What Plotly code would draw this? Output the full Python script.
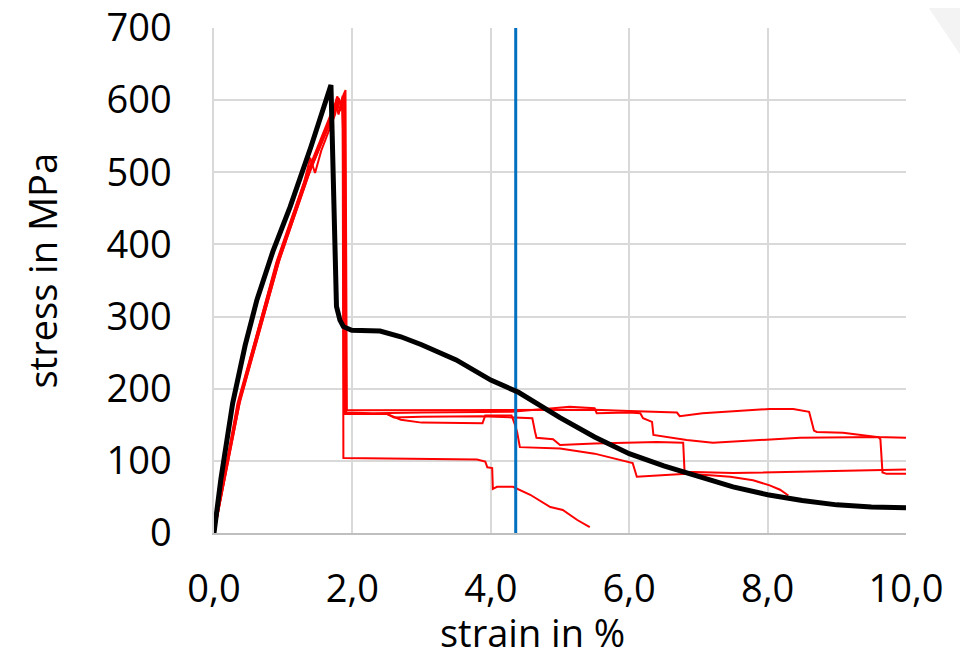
import plotly.graph_objects as go

# ---------------- data ----------------
c1_x = [0, 0.1, 0.35, 0.9, 1.35, 1.72, 1.78, 1.82, 1.85, 1.86, 1.87, 3.0, 3.8, 3.92, 3.95, 4.02, 4.03, 4.09, 4.32, 4.57, 4.86, 5.04, 5.25, 5.43]
c1_y = [0, 55, 180, 375, 500, 588, 598, 585, 595, 560, 104, 103, 102, 99, 91, 90, 61, 64, 64, 53, 36, 32, 18, 8]

c2_x = [0, 0.1, 0.38, 0.95, 1.4, 1.75, 1.80, 1.84, 1.90, 1.92, 2.5, 3.0, 3.8, 4.3, 4.9, 5.5, 6.0, 6.69, 6.73, 7.06, 8.03, 8.37, 8.6, 8.67, 8.71, 9.09, 9.58, 10.0]
c2_y = [0, 50, 185, 380, 505, 585, 600, 590, 614, 170, 170, 170, 171, 170, 171, 171, 169, 167, 162, 166, 172, 172, 168, 142, 140, 139, 133, 132]

c3_x = [0, 0.1, 0.36, 0.92, 1.38, 1.72, 1.78, 1.83, 1.88, 1.90, 2.3, 3.0, 3.86, 4.3, 4.9, 5.14, 5.5, 5.53, 6.0, 6.16, 6.2, 6.33, 6.35, 6.83, 7.21, 8.03, 8.47, 9.6, 9.63, 9.66, 9.72, 10.0]
c3_y = [0, 52, 182, 378, 502, 585, 605, 595, 610, 167, 166, 167, 167, 168, 173, 175, 173, 166, 167, 166, 159, 154, 136, 129, 125, 130, 132, 133, 130, 84, 82, 82]

c4_x = [0, 0.1, 0.37, 0.93, 1.36, 1.70, 1.76, 1.80, 1.86, 1.88, 2.5, 2.6, 3.0, 3.86, 4.3, 4.6, 4.64, 4.66, 4.9, 5.0, 5.5, 6.0, 6.4, 6.78, 6.80, 7.5, 8.0, 9.0, 10.0]
c4_y = [0, 50, 180, 374, 495, 575, 596, 580, 606, 165, 165, 160, 161, 162, 160, 159, 140, 132, 130, 122, 124, 125, 126, 125, 85, 83, 84, 86, 88]

c5_x = [0, 0.1, 0.34, 0.90, 1.30, 1.39, 1.46, 1.55, 1.75, 1.80, 1.85, 1.89, 1.91, 2.5, 2.7, 3.0, 3.88, 3.92, 4.3, 4.35, 4.38, 4.42, 5.0, 5.5, 5.9, 6.05, 6.11, 6.5, 6.83, 7.17, 7.46, 7.79, 7.93, 8.03, 8.18, 8.3]
c5_y = [0, 53, 180, 372, 485, 520, 499, 530, 580, 603, 590, 612, 165, 165, 157, 153, 152, 163, 163, 150, 140, 119, 117, 110, 101, 97, 78, 80, 82, 80, 78, 73, 69, 66, 60, 52]

mean_x = [0, 0.1, 0.27, 0.45, 0.62, 0.85, 1.10, 1.40, 1.69, 1.77, 1.82, 1.87, 1.99, 2.2, 2.4, 2.7, 3.0, 3.5, 4.0, 4.4, 5.0, 5.5, 6.0, 6.5, 7.0, 7.5, 8.0, 8.5, 9.0, 9.5, 10.0]
mean_y = [0, 75, 180, 260, 323, 390, 452, 535, 621, 314, 295, 286, 281, 281, 280, 272, 261, 240, 212, 195, 160, 133, 110, 93, 78, 64, 53, 45, 39, 36, 35]

marker_x = [4.36, 4.36]
marker_y = [0, 700]

x_ticks = [0, 2, 4, 6, 8, 10]
x_tick_labels = ["0,0", "2,0", "4,0", "6,0", "8,0", "10,0"]
y_ticks = [0, 100, 200, 300, 400, 500, 600, 700]

# ---------------- figure ----------------
FONT = "Open Sans"
RED = "#FF0000"

fig = go.Figure()
for xs, ys in [(c1_x, c1_y), (c2_x, c2_y), (c3_x, c3_y), (c4_x, c4_y), (c5_x, c5_y)]:
    fig.add_trace(go.Scatter(x=xs, y=ys, mode="lines",
                             line=dict(color=RED, width=2), showlegend=False,
                             hoverinfo="skip"))

fig.add_trace(go.Scatter(x=marker_x, y=marker_y, mode="lines",
                         line=dict(color="#0070C0", width=3), showlegend=False))

fig.add_trace(go.Scatter(x=mean_x, y=mean_y, mode="lines",
                         line=dict(color="#000000", width=5), showlegend=False))

# the page body has an 8px margin, so the figure is 8px smaller and margins shifted
fig.update_layout(
    width=960, height=651,
    margin=dict(l=206, r=62, t=20, b=126, autoexpand=False),
    paper_bgcolor="white", plot_bgcolor="white",
    font=dict(family=FONT, size=38, color="#000000"),
    showlegend=False,
    xaxis=dict(range=[0, 10], tickvals=x_ticks, ticktext=x_tick_labels,
               showgrid=True, gridcolor="#d9d9d9", gridwidth=1.5,
               showline=True, linecolor="#bfbfbf", linewidth=1.5,
               zeroline=False, ticks="", ticklabelstandoff=22,
               ticklabeloverflow="allow",
               automargin=False, tickfont=dict(family=FONT, size=38)),
    yaxis=dict(range=[0, 700], tickvals=y_ticks,
               showgrid=True, gridcolor="#d9d9d9", gridwidth=1.5,
               showline=True, linecolor="#d9d9d9", linewidth=1.5,
               zeroline=False, ticks="", ticklabelstandoff=33,
               ticklabeloverflow="allow",
               automargin=False, tickfont=dict(family=FONT, size=38)),
    annotations=[
        dict(text="strain in %", xref="paper", yref="paper", x=0.46, y=0,
             xanchor="center", yanchor="middle", yshift=-99, showarrow=False,
             font=dict(family=FONT, size=38)),
        dict(text="stress in MPa", xref="paper", yref="paper", x=0, y=0.5,
             xanchor="center", yanchor="middle", xshift=-173, yshift=10,
             textangle=-90, showarrow=False, font=dict(family=FONT, size=38)),
    ],
    shapes=[
        dict(type="path", xref="paper", yref="paper",
             path="M 1.023 1.06 L 1.09 1.06 L 1.09 0.9228 Z",
             fillcolor="#f3f3f3", line=dict(width=0), layer="below"),
    ],
)

fig.write_html("out.html")
